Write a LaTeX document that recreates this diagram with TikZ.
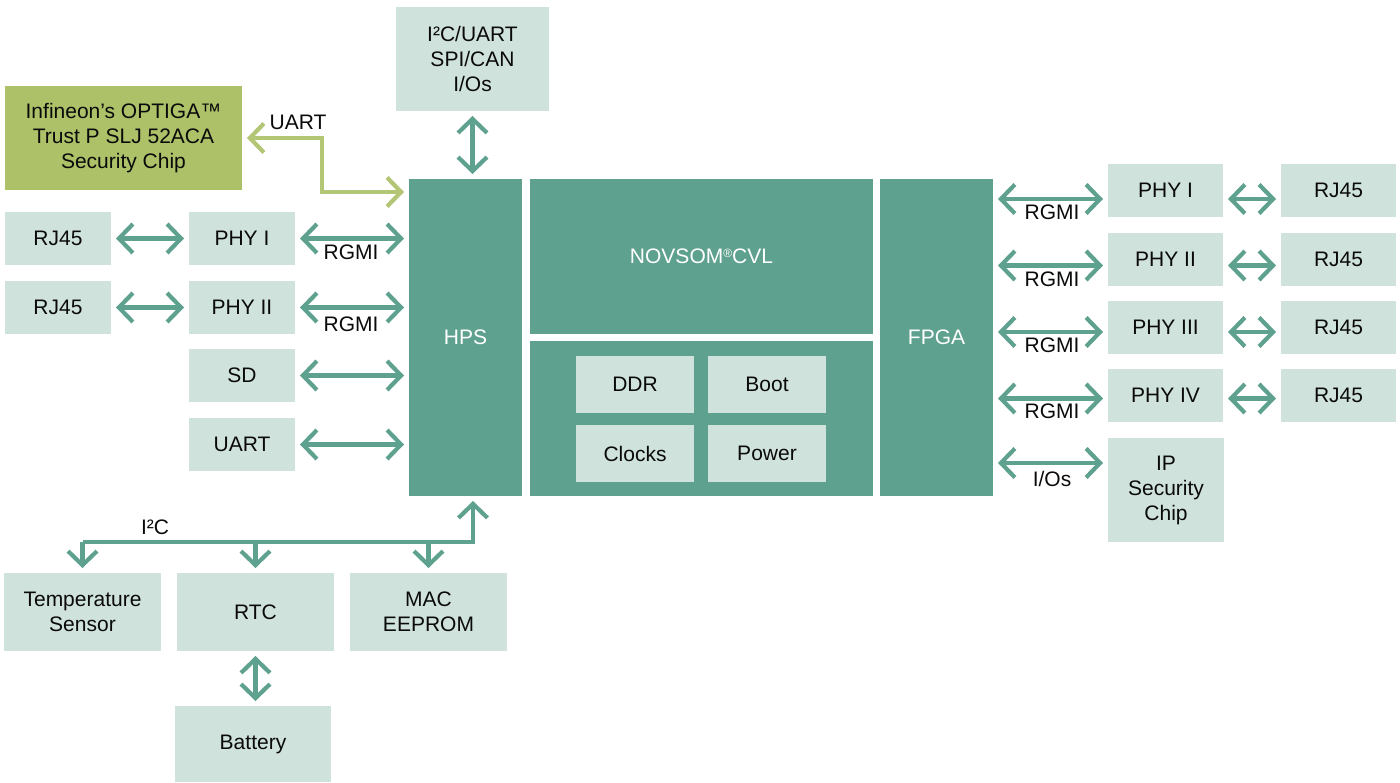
\documentclass[tikz,border=0pt]{standalone}
\usepackage{fontspec}
\setmainfont{Liberation Sans}
\usetikzlibrary{arrows.meta,calc}
\definecolor{lite}{HTML}{D0E2DC}
\definecolor{dark}{HTML}{5FA18F}
\definecolor{olive}{HTML}{ADC168}
\definecolor{oarr}{HTML}{B3C676}
\definecolor{txt}{HTML}{0A0A0A}
\tikzset{
  box/.style={inner sep=0pt, outer sep=0pt, align=center, font=\fontsize{21}{25}\selectfont, text=txt},
  lbox/.style={box, fill=lite},
  dbox/.style={box, fill=dark, text=white},
  gbox/.style={box, fill=olive},
  barb/.tip={Straight Barb[length=14pt,width=29pt]},
  arr/.style={draw=dark, line width=4.2pt, barb-barb, shorten >=5pt, shorten <=5pt},
  oneway/.style={draw=dark, line width=4.2pt, -barb, shorten >=5pt},
  garr/.style={draw=oarr, line width=4.2pt, barb-barb, shorten >=5pt, shorten <=5pt},
  lab/.style={font=\fontsize{21}{22}\selectfont, text=txt, inner sep=0pt},
}
\begin{document}
\begin{tikzpicture}[x=1pt,y=-1pt]
\useasboundingbox (0,0) rectangle (1400,783);
% top box and security chip
\node[lbox, minimum width=153pt, minimum height=104pt] (i2c) at (472.5,59) {I²C/UART\\SPI/CAN\\I/Os};
\node[gbox, minimum width=237pt, minimum height=104pt] (inf) at (123.5,138) {Infineon’s OPTIGA™\\Trust P SLJ 52ACA\\Security Chip};
% core
\node[dbox, minimum width=113pt, minimum height=317pt] (hps) at (465.5,337.5) {HPS};
\node[dbox, minimum width=343pt, minimum height=155pt] (nov) at (701.5,256.5) {NOVSOM\raisebox{0.55ex}{\fontsize{12}{12}\selectfont ®}CVL};
\node[dbox, minimum width=343pt, minimum height=155pt] (low) at (701.5,418.5) {};
\node[lbox, minimum width=118pt, minimum height=57pt] (ddr) at (635,384.5) {DDR};
\node[lbox, minimum width=118pt, minimum height=57pt] (boot) at (767,384.5) {Boot};
\node[lbox, minimum width=118pt, minimum height=57pt] (clk) at (635,453.5) {Clocks};
\node[lbox, minimum width=118pt, minimum height=57pt] (pwr) at (767,453.5) {Power};
\node[dbox, minimum width=113pt, minimum height=317pt] (fpga) at (936.5,337.5) {FPGA};
% left
\node[lbox, minimum width=106pt, minimum height=53pt] (rjL1) at (58,238.5) {RJ45};
\node[lbox, minimum width=106pt, minimum height=53pt] (phyL1) at (242,238.5) {PHY I};
\node[lbox, minimum width=106pt, minimum height=53pt] (rjL2) at (58,307.5) {RJ45};
\node[lbox, minimum width=106pt, minimum height=53pt] (phyL2) at (242,307.5) {PHY II};
\node[lbox, minimum width=106pt, minimum height=53pt] (sd) at (242,375.5) {SD};
\node[lbox, minimum width=106pt, minimum height=53pt] (uart) at (242,444.5) {UART};
% right
\node[lbox, minimum width=115pt, minimum height=53pt] (phyR1) at (1165.5,190.5) {PHY I};
\node[lbox, minimum width=115pt, minimum height=53pt] (rjR1) at (1338.5,190.5) {RJ45};
\node[lbox, minimum width=115pt, minimum height=53pt] (phyR2) at (1165.5,259.5) {PHY II};
\node[lbox, minimum width=115pt, minimum height=53pt] (rjR2) at (1338.5,259.5) {RJ45};
\node[lbox, minimum width=115pt, minimum height=53pt] (phyR3) at (1165.5,327.5) {PHY III};
\node[lbox, minimum width=115pt, minimum height=53pt] (rjR3) at (1338.5,327.5) {RJ45};
\node[lbox, minimum width=115pt, minimum height=53pt] (phyR4) at (1165.5,395.5) {PHY IV};
\node[lbox, minimum width=115pt, minimum height=53pt] (rjR4) at (1338.5,395.5) {RJ45};
\node[lbox, minimum width=116pt, minimum height=104pt] (ip) at (1166,490) {IP\\Security\\Chip};
% bottom
\node[lbox, minimum width=157pt, minimum height=78pt] (temp) at (82.5,612) {Temperature\\Sensor};
\node[lbox, minimum width=157pt, minimum height=78pt] (rtc) at (255.5,612) {RTC};
\node[lbox, minimum width=157pt, minimum height=78pt] (mac) at (428.5,612) {MAC\\EEPROM};
\node[lbox, minimum width=156pt, minimum height=76pt] (bat) at (253,744) {Battery};

% connectors: top
\draw[arr] (i2c.south) -- (i2c.south |- hps.north);
% UART to security chip
\coordinate (ubend) at (322,192);
\draw[garr] (inf.east) -| (ubend) -- (hps.west |- ubend);
\node[lab] at (298,122) {UART};
% left
\draw[arr] (rjL1) -- (phyL1);
\draw[arr] (rjL2) -- (phyL2);
\draw[arr] (phyL1.east) -- (hps.west |- phyL1.east);
\draw[arr] (phyL2.east) -- (hps.west |- phyL2.east);
\draw[arr] (sd.east) -- (hps.west |- sd.east);
\draw[arr] (uart.east) -- (hps.west |- uart.east);
\node[lab] at (351,252) {RGMI};
\node[lab] at (351,324) {RGMI};
% right
\coordinate (y1) at ($(phyR1.west)+(0,8.5)$);
\coordinate (y2) at ($(phyR2.west)+(0,6)$);
\coordinate (y3) at ($(phyR3.west)+(0,4.5)$);
\coordinate (y4) at ($(phyR4.west)+(0,3)$);
\coordinate (y5) at ($(ip.west)+(0,-27)$);
\foreach \i/\p/\r in {1/phyR1/rjR1,2/phyR2/rjR2,3/phyR3/rjR3,4/phyR4/rjR4}{
  \draw[arr] (fpga.east |- y\i) -- (y\i);
  \draw[arr] (\p.east |- y\i) -- (\r.west |- y\i);
}
\draw[arr] (fpga.east |- y5) -- (y5);
\node[lab] at (1052,212) {RGMI};
\node[lab] at (1052,279) {RGMI};
\node[lab] at (1052,345) {RGMI};
\node[lab] at (1052,411) {RGMI};
\node[lab] at (1052,479) {I/Os};
% bottom I2C bus
\coordinate (bus) at (473,542);
\draw[oneway, line join=miter] (temp.north |- bus) -- (bus) -- (bus |- hps.south);
\draw[oneway] (temp.north |- bus) -- (temp.north);
\draw[oneway] (rtc.north |- bus) -- (rtc.north);
\draw[oneway] (mac.north |- bus) -- (mac.north);
\node[lab] at (155,527) {I²C};
\draw[arr] (rtc.south) -- (rtc.south |- bat.north);
\end{tikzpicture}
\end{document}
